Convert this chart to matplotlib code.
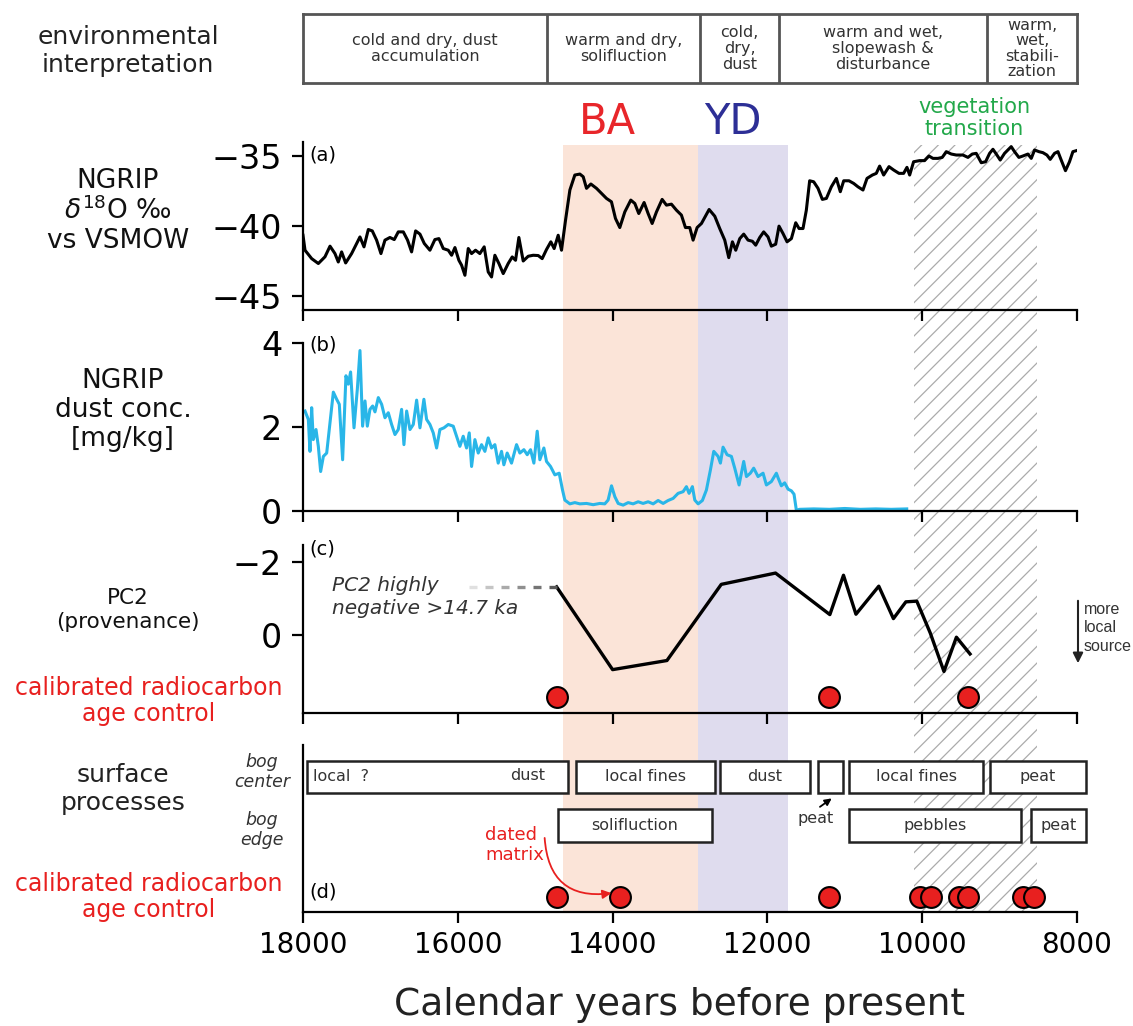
import numpy as np
import matplotlib.pyplot as plt
from matplotlib.patches import Rectangle, FancyArrowPatch

# ------------------------------------
# data
# ------------------------------------

# (a) NGRIP d18O
d18o_age = [18000, 17974, 17888, 17802, 17716, 17651, 17587, 17544, 17501, 17449,
            17372, 17307, 17264, 17212, 17156, 17105, 17049, 16993, 16941, 16877,
            16821, 16769, 16704, 16649, 16597, 16545, 16489, 16433, 16360, 16296,
            16244, 16188, 16123, 16080, 16037, 15986, 15951, 15908, 15865, 15822,
            15771, 15715, 15659, 15607, 15564, 15521, 15469, 15413, 15349, 15297,
            15254, 15211, 15155, 15090, 15026, 14961, 14910, 14854, 14798, 14755,
            14703, 14660, 14608, 14552, 14488, 14423, 14380, 14337, 14281, 14208,
            14144, 14079, 14015, 13963, 13907, 13842, 13765, 13713, 13662, 13593,
            13541, 13489, 13433, 13360, 13304, 13240, 13175, 13111, 13059,
            13003, 12960, 12908, 12852, 12753, 12680, 12616, 12551, 12499, 12452,
            12409, 12357, 12306, 12250, 12194, 12151, 12099, 12048, 11992, 11949,
            11893, 11850, 11798, 11746, 11690, 11634, 11591, 11540, 11497, 11454,
            11402, 11346, 11290, 11238, 11174, 11109, 11058, 11014, 10946, 10885,
            10830, 10765, 10713, 10644, 10593, 10550, 10498, 10429, 10369, 10300,
            10240, 10197, 10162, 10111, 10033, 9969, 9913, 9861, 9797, 9741,
            9689, 9624, 9560, 9474, 9409, 9353, 9302, 9237, 9181, 9129,
            9086, 9043, 8992, 8936, 8893, 8850, 8807, 8751, 8699, 8634,
            8591, 8548, 8492, 8441, 8389, 8346, 8290, 8246, 8204, 8149,
            8097, 8053, 8010]
d18o_val = [-40.66, -41.73, -42.33, -42.68, -42.2, -41.44, -41.97, -42.57, -41.85, -42.64,
            -41.97, -41.25, -40.78, -41.49, -40.25, -40.35, -41.01, -41.97, -41.01, -40.82,
            -40.97, -40.42, -40.42, -41.01, -41.85, -40.35, -40.58, -41.25, -41.73, -40.97,
            -40.90, -41.61, -41.73, -42.09, -41.54, -42.45, -42.80, -43.52, -41.61, -41.97,
            -41.73, -41.97, -41.49, -43.28, -43.64, -42.09, -42.68, -43.40, -42.68, -42.21,
            -42.45, -40.82, -42.50, -42.16, -42.09, -42.11, -42.33, -41.68, -41.13, -41.61,
            -40.66, -41.73, -39.58, -37.43, -36.36, -36.29, -36.48, -37.31, -37.0, -37.31,
            -37.67, -38.03, -38.27, -39.46, -40.11, -38.99, -38.15, -38.39, -39.11, -38.32,
            -39.11, -39.82, -38.99, -38.10, -38.51, -38.44, -38.87, -39.22, -40.11,
            -40.11, -41.01, -40.11, -39.82, -38.82, -39.30, -40.18, -41.01, -42.26, -41.13,
            -41.73, -40.90, -40.58, -41.01, -41.09, -41.37, -40.82, -40.42, -40.78, -41.44,
            -41.30, -40.01, -40.54, -41.13, -40.90, -39.77, -40.18, -40.18, -38.87, -36.77,
            -36.84, -37.31, -38.10, -38.03, -37.20, -36.60, -37.55, -36.77, -36.77, -36.96,
            -37.20, -37.43, -36.60, -36.36, -36.24, -35.72, -36.36, -35.76, -36.00, -36.24,
            -36.24, -35.81, -36.36, -35.41, -35.33, -35.33, -35.0, -35.17, -35.17, -35.10,
            -34.69, -34.86, -34.93, -34.93, -35.10, -34.86, -34.81, -35.48, -35.41, -34.81,
            -34.52, -34.86, -35.29, -34.81, -34.57, -34.33, -34.69, -35.10, -35.0, -34.86,
            -35.17, -34.57, -34.69, -34.76, -34.93, -35.24, -34.81, -34.69, -35.29, -36.05,
            -35.41, -34.69, -34.62]

# (b) NGRIP dust concentration
dust_age = [17974, 17931, 17910, 17888, 17867, 17832, 17802, 17772, 17737, 17694,
            17651, 17608, 17565, 17531, 17488, 17445, 17415, 17385, 17341, 17298,
            17264, 17230, 17199, 17169, 17135, 17100, 17070, 17027, 16984, 16941,
            16898, 16855, 16812, 16769, 16726, 16696, 16661, 16618, 16575, 16532,
            16489, 16438, 16403, 16360, 16317, 16274, 16231, 16179, 16123, 16059,
            16016, 15973, 15930, 15887, 15852, 15822, 15779, 15736, 15693, 15650,
            15607, 15564, 15521, 15478, 15435, 15405, 15362, 15306, 15241, 15198,
            15146, 15103, 15060, 15017, 14974, 14940, 14888, 14854, 14802, 14746,
            14690, 14647, 14617, 14552, 14488, 14423, 14337, 14251, 14165, 14101,
            14058, 14014, 13971, 13928, 13864, 13799, 13735, 13670, 13606, 13541,
            13476, 13412, 13347, 13283, 13218, 13154, 13089, 13046, 13012, 12969,
            12938, 12895, 12840, 12788, 12736, 12693, 12637, 12607, 12573, 12521,
            12465, 12422, 12366, 12306, 12271, 12220, 12177, 12121, 12056, 12013,
            11949, 11884, 11862, 11820, 11777, 11733, 11690, 11656, 11626, 11583,
            11400, 11200, 11000, 10800, 10600, 10400, 10200]
dust_val = [2.38, 2.18, 1.42, 2.46, 1.70, 1.94, 1.54, 0.94, 1.30, 1.38,
            2.10, 2.83, 2.66, 2.54, 1.22, 3.22, 3.02, 3.31, 1.98, 2.90,
            3.82, 2.02, 2.62, 2.02, 2.42, 2.50, 2.36, 2.70, 2.54, 2.22,
            2.34, 2.06, 1.82, 1.94, 2.42, 1.58, 2.38, 1.94, 2.06, 2.64,
            1.98, 2.66, 2.18, 2.06, 1.86, 1.50, 1.94, 1.98, 2.06, 2.02,
            1.78, 1.54, 1.78, 1.50, 1.86, 1.06, 1.70, 1.38, 1.58, 1.42,
            1.74, 1.50, 1.58, 1.14, 1.42, 1.10, 1.38, 1.14, 1.58, 1.38,
            1.46, 1.34, 1.46, 1.14, 1.90, 1.22, 1.50, 1.18, 1.06, 0.86,
            0.90, 0.50, 0.26, 0.17, 0.20, 0.17, 0.18, 0.15, 0.18, 0.17,
            0.26, 0.60, 0.34, 0.18, 0.14, 0.20, 0.17, 0.22, 0.18, 0.22,
            0.17, 0.25, 0.18, 0.25, 0.30, 0.42, 0.46, 0.58, 0.42, 0.58,
            0.26, 0.17, 0.25, 0.50, 0.98, 1.42, 1.30, 1.14, 1.52, 1.34,
            1.30, 1.02, 0.62, 1.18, 0.82, 0.90, 1.02, 0.82, 0.90, 0.62,
            0.70, 0.90, 0.79, 0.60, 0.67, 0.52, 0.48, 0.40, 0.02, 0.04,
            0.05, 0.04, 0.06, 0.04, 0.05, 0.04, 0.05]

# (c) PC2 (provenance)
pc2_age = [14723, 14000, 13298, 12596, 11895, 11193, 11017, 10856, 10561, 10372,
           10211, 10070, 9895, 9719, 9558, 9382]
pc2_val = [-1.32, 0.95, 0.70, -1.39, -1.70, -0.56, -1.64, -0.57, -1.34, -0.45,
           -0.91, -0.93, -0.05, 1.00, 0.06, 0.52]
pc2_old_age = [15860, 14723]      # "PC2 highly negative >14.7 ka"
pc2_old_val = -1.32

# calibrated radiocarbon ages
c14_pc2 = [14720, 11210, 9410]
c14_all = [14720, 13900, 11210, 10030, 9880, 9520, 9410, 8700, 8550]

# climate periods
ba_span = (14640, 12900)
yd_span = (12900, 11730)
veg_span = (10100, 8520)

# environmental interpretation
env_edges = [18000, 14850, 12870, 11850, 9160, 8000]
env_labels = ["cold and dry, dust\naccumulation",
              "warm and dry,\nsolifluction",
              "cold,\ndry,\ndust",
              "warm and wet,\nslopewash &\ndisturbance",
              "warm,\nwet,\nstabili-\nzation"]

# surface processes (start, end, label)
bog_center = [(17950, 14580, ""), (14470, 12680, "local fines"), (12610, 11450, "dust"),
              (11350, 11020, ""), (10940, 9220, "local fines"), (9120, 7890, "peat")]
bog_edge = [(14710, 12710, "solifluction"), (10940, 8720, "pebbles"), (8590, 7890, "peat")]

xticks = [18000, 16000, 14000, 12000, 10000, 8000]

# ------------------------------------
# figure
# ------------------------------------
plt.rcParams['hatch.linewidth'] = 0.9
plt.rcParams['hatch.color'] = '#ababab'

W, H = 1133, 1026
fig = plt.figure(figsize=(W / 100, H / 100), dpi=100)
X0, X1 = 303, 1077
RED = '#e8201f'
TXT = '#333333'


def panel(top, bot):
    return fig.add_axes([X0 / W, 1 - bot / H, (X1 - X0) / W, (bot - top) / H])


def ftext(px, py, s, **kw):
    return fig.text(px / W, 1 - py / H, s, **kw)


def style(ax):
    ax.set_xlim(18000, 8000)
    ax.set_facecolor('none')
    for s in ['top', 'right']:
        ax.spines[s].set_visible(False)
    for s in ['left', 'bottom']:
        ax.spines[s].set_linewidth(1.6)
    ax.set_xticks(xticks)
    ax.set_xticklabels([])
    ax.tick_params(direction='out', length=8, width=1.6, labelsize=24, pad=7)


# shaded periods behind all panels
bg = panel(145, 912)
bg.set_xlim(18000, 8000)
bg.set_ylim(0, 1)
bg.axis('off')
bg.axvspan(*ba_span, color='#fbe4d8', lw=0)
bg.axvspan(*yd_span, color='#dfdcee', lw=0)
bg.axvspan(*veg_span, facecolor='none', edgecolor='#ababab', hatch='//', lw=0)

# environmental interpretation boxes
env = panel(14, 83)
env.set_xlim(18000, 8000)
env.set_ylim(0, 1)
env.set_xticks([])
env.set_yticks([])
for s in env.spines.values():
    s.set_color('#555555')
    s.set_linewidth(2)
for x in env_edges[1:-1]:
    env.axvline(x, color='#555555', lw=2)
for a, b, lab in zip(env_edges[:-1], env_edges[1:], env_labels):
    env.text((a + b) / 2, 0.5, lab, ha='center', va='center', fontsize=11.5,
             color=TXT, linespacing=1.05)

# (a) d18O
ax_a = panel(142, 310)
style(ax_a)
ax_a.plot(d18o_age, d18o_val, color='black', lw=2.2)
ax_a.set_ylim(-46, -34)
ax_a.set_yticks([-35, -40, -45])

# (b) dust
ax_b = panel(343, 511)
style(ax_b)
ax_b.plot(dust_age, dust_val, color='#29b6e8', lw=2.2)
ax_b.set_ylim(0, 4)
ax_b.set_yticks([0, 2, 4])

# (c) PC2
ax_c = panel(545, 713)
style(ax_c)
ax_c.set_ylim(2.14, -2.47)
ax_c.set_yticks([-2, 0])
ax_c.plot(pc2_age, pc2_val, color='black', lw=2.4)
edges = np.linspace(pc2_old_age[0], pc2_old_age[1], 12)
greys = np.linspace(0.88, 0.35, 6)
for k in range(6):
    ax_c.plot(edges[2 * k:2 * k + 2], [pc2_old_val] * 2, color=str(greys[k]),
              lw=2.4, solid_capstyle='butt')
ax_c.plot(c14_pc2, [1.70] * len(c14_pc2), 'o', ms=15, mfc=RED, mec='black',
          mew=1.5, clip_on=False)
ax_c.text(17630, -1.05, "PC2 highly\nnegative >14.7 ka", ha='left', va='center',
          fontsize=14.5, style='italic', color=TXT, linespacing=1.25)

# (d) surface processes
ax_d = panel(745, 912)
style(ax_d)
ax_d.set_ylim(0, 1)
ax_d.set_yticks([])
ax_d.set_xticklabels([str(t) for t in xticks])
ax_d.tick_params(axis='x', labelsize=20, pad=6)

for row, (y0, y1) in [(bog_center, (0.713, 0.904)), (bog_edge, (0.419, 0.617))]:
    for a, b, lab in row:
        ax_d.add_patch(Rectangle((a, y0), b - a, y1 - y0, facecolor='white',
                                 edgecolor='#222222', lw=1.8, clip_on=False, zorder=3))
        if lab:
            ax_d.text((a + b) / 2, (y0 + y1) / 2, lab, ha='center', va='center',
                      fontsize=11.5, color=TXT, zorder=4)
ax_d.text(17870, 0.81, "local  ?", ha='left', va='center', fontsize=11.5,
          color=TXT, zorder=4)
ax_d.text(15100, 0.82, "dust", ha='center', va='center', fontsize=11.5,
          color=TXT, zorder=4)

ax_d.annotate("", xy=(11140, 0.69), xytext=(11350, 0.62),
              arrowprops=dict(arrowstyle='-|>', color='black', lw=1.3,
                              mutation_scale=10))
ax_d.text(11380, 0.56, "peat", ha='center', va='center', fontsize=11.5, color=TXT)

ax_d.plot(c14_all, [0.09] * len(c14_all), 'o', ms=15, mfc=RED, mec='black',
          mew=1.5, clip_on=False, zorder=5)

ax_d.text(15650, 0.40, "dated\nmatrix", ha='left', va='center', fontsize=13,
          color=RED, linespacing=1.15)
ax_d.add_patch(FancyArrowPatch((14880, 0.46), (13980, 0.115),
                               connectionstyle='arc3,rad=0.55', arrowstyle='-|>',
                               mutation_scale=13, color=RED, lw=1.3, zorder=6))

# panel letters
ftext(309, 155, "(a)", fontsize=14, va='center', ha='left')
ftext(309, 345, "(b)", fontsize=14, va='center', ha='left')
ftext(309, 549, "(c)", fontsize=14, va='center', ha='left')
ftext(309, 892, "(d)", fontsize=14, va='center', ha='left')

# period names
ftext(607, 122, "BA", fontsize=30, color='#e8262a', ha='center', va='center')
ftext(733, 122, "YD", fontsize=30, color='#2d2f96', ha='center', va='center')
ftext(974, 118, "vegetation\ntransition", fontsize=15, color='#22a84a',
      ha='center', va='center', linespacing=1.1)

# left hand labels
ftext(128, 51, "environmental\ninterpretation", fontsize=18, color='#222222',
      ha='center', va='center', linespacing=1.25)
ftext(118, 211, "NGRIP\n$\\delta^{18}$O ‰\nvs VSMOW", fontsize=19, color='#111111',
      ha='center', va='center', linespacing=1.15)
ftext(123, 410, "NGRIP\ndust conc.\n[mg/kg]", fontsize=19, color='#111111',
      ha='center', va='center', linespacing=1.15)
ftext(128, 610, "PC2\n(provenance)", fontsize=15.5, color='#111111',
      ha='center', va='center', linespacing=1.2)
ftext(149, 701, "calibrated radiocarbon\nage control", fontsize=17, color=RED,
      ha='center', va='center', linespacing=1.1)
ftext(123, 789, "surface\nprocesses", fontsize=18, color='#222222',
      ha='center', va='center', linespacing=1.2)
ftext(149, 897, "calibrated radiocarbon\nage control", fontsize=17, color=RED,
      ha='center', va='center', linespacing=1.1)
ftext(262, 772, "bog\ncenter", fontsize=12.5, style='italic', color=TXT,
      ha='center', va='center', linespacing=1.2)
ftext(262, 830, "bog\nedge", fontsize=12.5, style='italic', color=TXT,
      ha='center', va='center', linespacing=1.2)

# more local source arrow
fig.add_artist(FancyArrowPatch((1078 / W, 1 - 598 / H), (1078 / W, 1 - 666 / H),
                               transform=fig.transFigure, arrowstyle='-|>',
                               mutation_scale=15, color='#222222', lw=1.5))
ftext(1084, 628, "more\nlocal\nsource", fontsize=11.5, color=TXT, ha='left',
      va='center', linespacing=1.3, family=['Liberation Sans', 'DejaVu Sans'])

ftext(680, 1005, "Calendar years before present", fontsize=27, color='#222222',
      ha='center', va='center')

fig.savefig("out.png", dpi=100)
